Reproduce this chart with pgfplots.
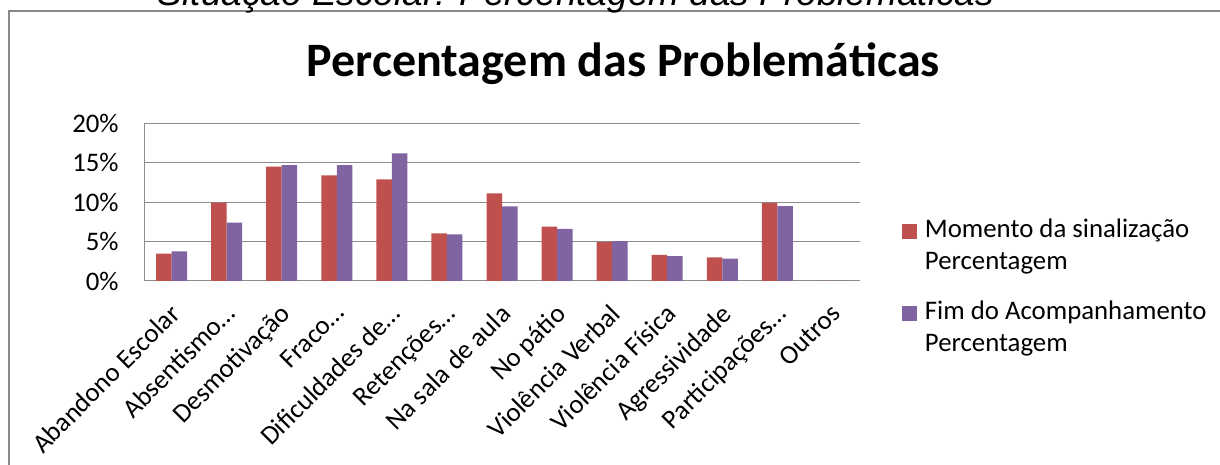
\documentclass[border=0pt]{standalone}
\usepackage{fontspec}
\setmainfont{Carlito}
\newfontfamily\arialfont{Liberation Sans}
\usepackage{pgfplots}
\pgfplotsset{compat=1.18}
\definecolor{redbar}{HTML}{C0504D}
\definecolor{purplebar}{HTML}{8064A2}
\definecolor{gridgray}{HTML}{8C8C8C}
\definecolor{framegray}{HTML}{898989}
\begin{document}
\begin{tikzpicture}
\useasboundingbox (0,0) rectangle (610pt,232.5pt);
\draw[framegray, line width=1pt] (4.5pt,-20pt) -- (4.5pt,227pt) -- (640pt,227pt);
\node[anchor=base, font=\arialfont\itshape\fontsize{18.5}{22}\selectfont, inner sep=0pt] at (288pt,229.5pt) {Situação Escolar: Percentagem das Problemáticas};
\node[anchor=base, font=\bfseries\fontsize{24}{28}\selectfont, inner sep=0pt] at (311.75pt,194pt) {Percentagem das Problemáticas};
\begin{axis}[
  at={(72pt,92pt)}, anchor=south west,
  scale only axis, width=358pt, height=78.85pt,
  ybar=0pt, bar width=7.75pt,
  xmin=-0.5, xmax=12.5, ymin=0, ymax=20,
  xtick={0,...,12},
  xticklabels={Abandono Escolar, Absentismo…, Desmotivação, Fraco…, Dificuldades de…, Retenções…, Na sala de aula, No pátio, Violência Verbal, Violência Física, Agressividade, Participações…, Outros},
  ytick={0,5,10,15,20}, yticklabels={0\%,5\%,10\%,15\%,20\%},
  axis x line*=bottom, axis y line*=left,
  ymajorgrids, grid style={gridgray, line width=0.5pt},
  axis line style={gridgray, line width=0.5pt},
  major tick length=0pt, tick style={draw=none},
  tick label style={font=\fontsize{13.4}{16}\selectfont},
  xticklabel style={xshift=-1.5pt, yshift=-10.5pt, rotate=45, anchor=north east, inner sep=0pt},
  yticklabel style={anchor=east, inner sep=0pt, xshift=-12.5pt},
  legend style={draw=none, fill=none, at={(axis description cs:1.058,0.42)}, anchor=north west, inner sep=0pt, font=\fontsize{13.4}{16}\selectfont, cells={align=left}, row sep=10pt, column sep=2pt},
  legend cell align=left,
  legend image code/.code={\fill[#1] (0pt,3.5pt) rectangle (7.5pt,11pt);},
]
\addplot[fill=redbar, draw=none] coordinates {(0,3.46) (1,9.95) (2,14.5) (3,13.4) (4,12.9) (5,6.05) (6,11.1) (7,6.9) (8,4.95) (9,3.3) (10,3.0) (11,9.9) (12,0)};
\addplot[fill=purplebar, draw=none] coordinates {(0,3.76) (1,7.4) (2,14.7) (3,14.7) (4,16.2) (5,5.92) (6,9.47) (7,6.6) (8,5.07) (9,3.17) (10,2.83) (11,9.5) (12,0)};
\legend{Momento da sinalização\\Percentagem, Fim do Acompanhamento\\Percentagem}
\end{axis}
\end{tikzpicture}
\end{document}
